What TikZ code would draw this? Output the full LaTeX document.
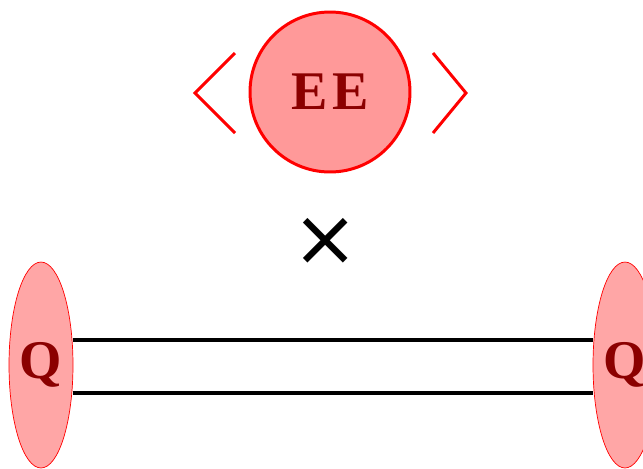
\documentclass[tikz,border=0pt]{standalone}
\usepackage{fontspec}
\setmainfont{Liberation Serif}
\newfontfamily\symfont{DejaVu Sans}
\usetikzlibrary{shapes.geometric}

\definecolor{ballfill}{HTML}{FF9999}
\definecolor{endfill}{HTML}{FFA6A6}
\definecolor{labred}{HTML}{8B0000}

\tikzset{
  ball/.style={circle, draw=red, line width=1.7pt, fill=ballfill, minimum size=3.2cm, inner sep=0pt,
    font=\fontsize{31}{31}\selectfont\bfseries, text=labred},
  endcap/.style={ellipse, draw=red, line width=0.4pt, fill=endfill, minimum width=1.28cm, minimum height=4.12cm, inner sep=0pt,
    font=\fontsize{31}{31}\selectfont\bfseries, text=labred},
  bracket/.style={red, line width=1.7pt},
  string/.style={black, line width=2pt}
}

\begin{document}
\begin{tikzpicture}[x=0.02cm, y=-0.02cm]
    \useasboundingbox (0,0) rectangle (643,468);

    % top: the ball with its brackets
    \node[ball] (ee) at (330,92) {E\hspace{3pt}E};
    \draw[bracket] (235,53) -- (195,93) -- (235,133);
    \draw[bracket] (433,53) -- (466,93) -- (433,133);

    \node[font=\symfont\fontsize{45}{45}\selectfont] (times) at (326,242) {×};

    % bottom: two end caps joined by two lines
    \node[endcap] (ql) at (41,365) {Q};
    \node[endcap] (qr) at (625,365) {Q};
    \draw[string] ([yshift=0.5cm]ql.east) -- ([yshift=0.5cm]qr.west);
    \draw[string] ([yshift=-0.56cm]ql.east) -- ([yshift=-0.56cm]qr.west);
\end{tikzpicture}
\end{document}
